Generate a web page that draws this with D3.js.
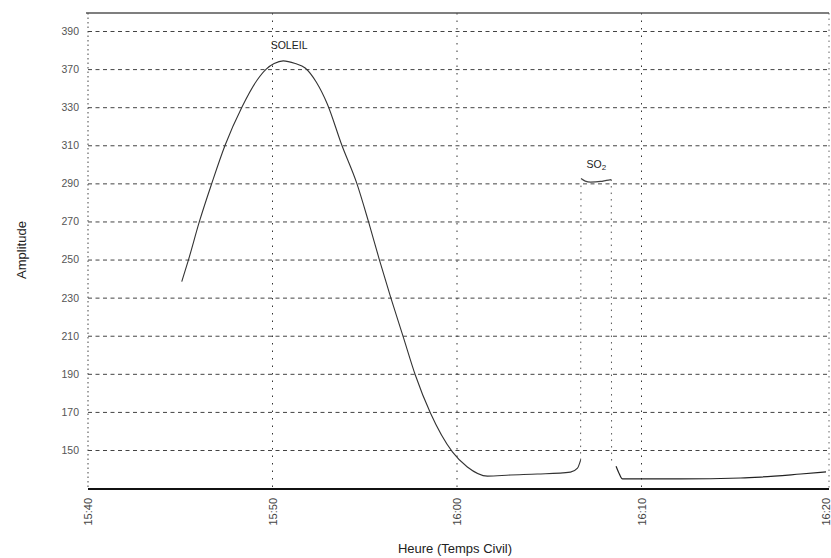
<!DOCTYPE html>
<html>
<head>
<meta charset="utf-8">
<script src="https://cdn.jsdelivr.net/npm/d3@7.9.0/dist/d3.min.js"></script>
<style>
  body { margin: 0; background: #fff; }
  svg { display: block; font-family: "Liberation Sans", Arial, sans-serif; }
</style>
</head>
<body>
<svg width="831" height="558"></svg>
<script>
// minutes after 15:40
const xTickValues = [0, 10, 20, 30, 40];
const xTickLabels = ['15:40', '15:50', '16:00', '16:10', '16:20'];
// labels as printed on the chart (gridlines are evenly spaced)
const yTickLabels = [150, 170, 190, 210, 230, 250, 270, 290, 310, 330, 370, 390];

// SOLEIL curve
const soleilTimes = [5.08, 5.45, 6.04, 6.71, 7.43, 8.34, 9.17, 9.66, 10.09, 10.58, 11.23, 11.77, 12.37, 12.97, 13.76, 14.57, 15.2, 15.79, 16.41, 17.09, 17.74, 18.56, 19.75, 20.56, 21.65, 22.9, 24.36, 26.15, 26.53, 26.7];
const soleilAmps = [238.4, 250, 270, 290, 310, 330, 358.6, 370, 372.9, 374.3, 372.9, 370.6, 356.5, 333.4, 310, 290, 270, 250, 230, 209.3, 189.4, 169.4, 149.0, 141.1, 136.3, 136.9, 137.4, 138.4, 140.5, 144.7];

// SO2 pulse
const so2EdgeTimes = [26.7, 26.72, null, 28.36, 28.38];
const so2EdgeAmps = [144.7, 291.5, null, 292.0, 143.5];
const so2TopTimes = [26.72, 26.95, 27.24, 27.78, 28.1, 28.36];
const so2TopAmps = [292.5, 291.2, 290.7, 291.0, 291.6, 292.0];

// after the pulse
const tailTimes = [28.62, 28.75, 28.97, 32.12, 35.38, 36.46, 38.63, 40.0];
const tailAmps = [141.5, 138.5, 134.8, 134.8, 135.3, 135.8, 137.4, 138.5];

const svg = d3.select('svg');
const plotLeft = 88, plotRight = 829, plotTop = 13, plotBottom = 489;
const y150 = 450, step = 38.09;

let x = d3.scaleLinear().domain([0, 40]).range([plotLeft, 826]);
let y = d3.scaleLinear()
  .domain(yTickLabels)
  .range(yTickLabels.map((d, i) => y150 - i * step));

// horizontal gridlines + labels
let yAxis = d3.axisLeft(y)
  .tickValues(yTickLabels)
  .tickSize(-(plotRight - plotLeft))
  .tickPadding(9)
  .tickFormat((d) => String(d));

let gy = svg.append('g')
  .attr('transform', `translate(${plotLeft},0)`)
  .call(yAxis);
gy.select('.domain').remove();
gy.selectAll('line')
  .attr('stroke', '#444')
  .attr('stroke-width', 1)
  .attr('stroke-dasharray', '4 3.5');
gy.selectAll('text')
  .attr('fill', '#555')
  .attr('font-size', 10.5);

// vertical gridlines
xTickValues.slice(1, -1).forEach((t) => {
  svg.append('line')
    .attr('x1', x(t)).attr('x2', x(t))
    .attr('y1', plotTop).attr('y2', plotBottom)
    .attr('stroke', '#333')
    .attr('stroke-dasharray', '1.5 6');
});

// frame
svg.append('line')
  .attr('x1', plotLeft).attr('x2', plotLeft).attr('y1', plotTop).attr('y2', plotBottom)
  .attr('stroke', '#444').attr('stroke-dasharray', '1.5 3');
svg.append('line')
  .attr('x1', plotRight).attr('x2', plotRight).attr('y1', plotTop).attr('y2', plotBottom)
  .attr('stroke', '#666').attr('stroke-dasharray', '1.5 4');
svg.append('line')
  .attr('x1', plotLeft - 2).attr('x2', plotRight).attr('y1', plotTop).attr('y2', plotTop)
  .attr('stroke', '#555').attr('stroke-width', 1.5);

// x axis
let xAxis = d3.axisBottom(x)
  .tickValues(xTickValues)
  .tickSize(0)
  .tickPadding(0)
  .tickFormat((d, i) => xTickLabels[i]);

let gx = svg.append('g')
  .attr('transform', `translate(0,${plotBottom})`)
  .call(xAxis);
gx.select('.domain')
  .attr('stroke', '#111')
  .attr('stroke-width', 2)
  .attr('d', `M${plotLeft},0H${plotRight}`);
gx.selectAll('text')
  .attr('fill', '#444')
  .attr('font-size', 11)
  .attr('transform', 'rotate(-90)')
  .attr('text-anchor', 'end')
  .attr('x', -9)
  .attr('y', 0)
  .attr('dy', '0.35em');

// curves
let line = d3.line()
  .x((d) => x(d[0]))
  .y((d) => y(d[1]))
  .curve(d3.curveMonotoneX);

svg.append('path')
  .attr('d', line(d3.zip(soleilTimes, soleilAmps)))
  .attr('fill', 'none')
  .attr('stroke', '#333')
  .attr('stroke-width', 1.1);

svg.append('path')
  .attr('d', d3.line()
    .defined((d) => d[0] !== null)
    .x((d) => x(d[0]))
    .y((d) => y(d[1]))(d3.zip(so2EdgeTimes, so2EdgeAmps)))
  .attr('fill', 'none')
  .attr('stroke', '#555')
  .attr('stroke-width', 1)
  .attr('stroke-dasharray', '1.5 5');

svg.append('path')
  .attr('d', line(d3.zip(so2TopTimes, so2TopAmps)))
  .attr('fill', 'none')
  .attr('stroke', '#444')
  .attr('stroke-width', 1.2);

svg.append('path')
  .attr('d', line(d3.zip(tailTimes, tailAmps)))
  .attr('fill', 'none')
  .attr('stroke', '#222')
  .attr('stroke-width', 1.2);

// annotations
svg.append('text')
  .attr('x', x(10.9)).attr('y', 49)
  .attr('text-anchor', 'middle')
  .attr('font-size', 10.5)
  .attr('fill', '#222')
  .text('SOLEIL');

let so2 = svg.append('text')
  .attr('x', x(27.55)).attr('y', 168)
  .attr('text-anchor', 'middle')
  .attr('font-size', 10.5)
  .attr('fill', '#222');
so2.append('tspan').text('SO');
so2.append('tspan').attr('font-size', 8).attr('dy', 2).text('2');

// axis titles
svg.append('text')
  .attr('transform', 'translate(26,250) rotate(-90)')
  .attr('text-anchor', 'middle')
  .attr('font-size', 13)
  .attr('fill', '#222')
  .text('Amplitude');

svg.append('text')
  .attr('x', 455).attr('y', 553)
  .attr('text-anchor', 'middle')
  .attr('font-size', 13)
  .attr('fill', '#222')
  .text('Heure (Temps Civil)');
</script>
</body>
</html>
